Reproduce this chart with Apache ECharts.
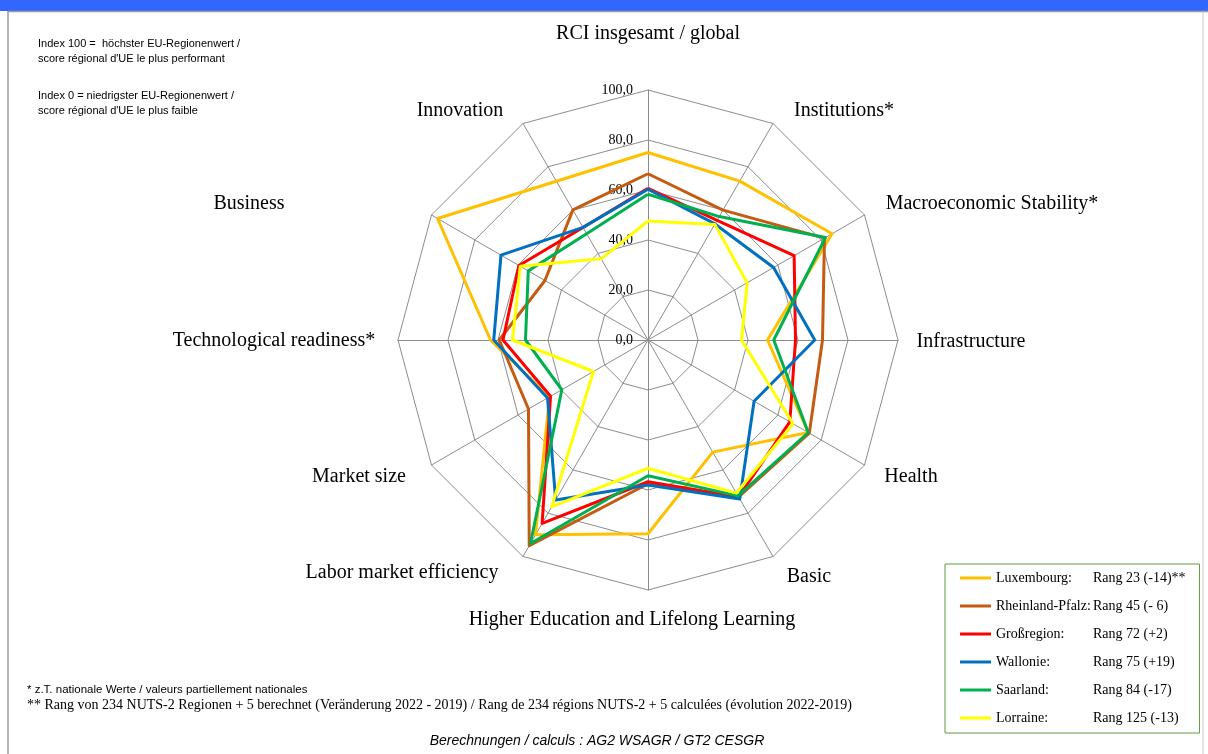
<!DOCTYPE html>
<html>
<head>
<meta charset="utf-8">
<script src="https://cdn.jsdelivr.net/npm/echarts@6/dist/echarts.min.js"></script>
<style>
  html, body { margin: 0; padding: 0; background: #fff; }
  #chart { width: 1208px; height: 754px; }
</style>
</head>
<body>
<div id="chart"></div>
<script>
// axes, clockwise from the top as in the picture
const indicators = ['RCI insgesamt / global', 'Institutions*', 'Macroeconomic Stability*', 'Infrastructure',
  'Health', 'Basic', 'Higher Education and Lifelong Learning', 'Labor market efficiency',
  'Market size', 'Technological readiness*', 'Business', 'Innovation']
const axisTicks = [0, 20, 40, 60, 80, 100]

const regions = ['Luxembourg', 'Rheinland-Pfalz', 'Großregion', 'Wallonie', 'Saarland', 'Lorraine']
const ranks = ['Rang 23 (-14)**', 'Rang 45 (- 6)', 'Rang 72 (+2)', 'Rang 75 (+19)', 'Rang 84 (-17)', 'Rang 125 (-13)']

const luxembourg = [75.0, 73.4, 85.0, 47.8, 74.0, 51.8, 77.5, 90.0, 45.5, 63.0, 97.2, 73.3]
const rheinlandPfalz = [66.5, 60.0, 81.5, 69.8, 74.5, 72.5, 57.5, 95.0, 55.2, 59.5, 47.6, 60.1]
const grossregion = [60.7, 55.3, 67.5, 59.0, 65.5, 72.5, 56.7, 84.7, 45.0, 58.0, 59.6, 52.0]
const wallonie = [60.3, 53.6, 58.0, 66.7, 49.0, 73.4, 58.0, 73.9, 46.4, 61.7, 67.9, 52.0]
const saarland = [58.3, 57.0, 82.0, 50.3, 74.0, 72.0, 54.3, 94.0, 39.8, 49.0, 55.3, 49.1]
const lorraine = [47.6, 53.4, 45.8, 37.4, 67.0, 70.7, 51.3, 77.1, 25.2, 54.2, 59.0, 37.5]

const seriesValues = [luxembourg, rheinlandPfalz, grossregion, wallonie, saarland, lorraine]
const colors = ['#FFC000', '#C55A11', '#FF0000', '#0070C0', '#00B050', '#FFFF00']

// where the axis names sit (centre of each text)
const namePos = [[648, 34], [844, 111], [992, 204], [971, 342], [911, 477], [809, 577],
  [632, 620], [402, 573], [359, 477], [274, 341], [249, 204], [460, 111]]

// echarts radar runs counter-clockwise, so keep the first axis and reverse the rest
const order = [0].concat(indicators.map((n, i) => i).slice(1).reverse())

const serif = 'Liberation Serif, Times New Roman, serif'
const sans = 'Liberation Sans, Arial, sans-serif'

const graphics = [
  { type: 'rect', shape: { x: 0, y: 0, width: 1208, height: 11 }, style: { fill: '#3366FF' } },
  { type: 'line', shape: { x1: 8, y1: 11.5, x2: 1208, y2: 11.5 }, style: { stroke: '#9a9a9a', lineWidth: 1.5 } },
  { type: 'line', shape: { x1: 8, y1: 11, x2: 8, y2: 754 }, style: { stroke: '#9a9a9a', lineWidth: 1.5 } },
  { type: 'line', shape: { x1: 1203, y1: 11, x2: 1203, y2: 754 }, style: { stroke: '#c8c8c8', lineWidth: 1 } }
]

const notes = [
  ['Index 100 =  höchster EU-Regionenwert /', 44],
  ['score régional d\'UE le plus performant', 58.5],
  ['Index 0 = niedrigster EU-Regionenwert /', 96],
  ['score régional d\'UE le plus faible', 110.5]
]
notes.forEach(n => graphics.push({
  type: 'text', x: 38, y: n[1],
  style: { text: n[0], fontFamily: sans, fontSize: 11, fill: '#000', align: 'left', verticalAlign: 'middle' }
}))

graphics.push({
  type: 'text', x: 27, y: 690,
  style: { text: '* z.T. nationale Werte / valeurs partiellement nationales', fontFamily: sans, fontSize: 11.5,
    fill: '#000', align: 'left', verticalAlign: 'middle' }
})
graphics.push({
  type: 'text', x: 27, y: 705,
  style: { text: '** Rang von 234 NUTS-2 Regionen + 5 berechnet (Veränderung 2022 - 2019) / Rang de 234 régions NUTS-2 + 5 calculées (évolution 2022-2019)',
    fontFamily: serif, fontSize: 14, fill: '#000', align: 'left', verticalAlign: 'middle' }
})
graphics.push({
  type: 'text', x: 597, y: 741,
  style: { text: 'Berechnungen / calculs : AG2 WSAGR / GT2 CESGR', fontFamily: sans, fontStyle: 'italic',
    fontSize: 14, fill: '#000', align: 'center', verticalAlign: 'middle' }
})

indicators.forEach((name, i) => graphics.push({
  type: 'text', x: namePos[i][0], y: namePos[i][1],
  style: { text: name, fontFamily: serif, fontSize: 20, fill: '#000', align: 'center', verticalAlign: 'middle' }
}))

const chart = echarts.init(document.getElementById('chart'))
chart.setOption({
  animation: false,
  backgroundColor: '#fff',
  color: colors,
  graphic: graphics,
  legend: {
    data: regions,
    orient: 'vertical',
    left: 945,
    top: 564,
    padding: [7, 14, 8, 15],
    borderColor: '#5E9C3E',
    borderWidth: 1,
    icon: 'rect',
    itemWidth: 31,
    itemHeight: 3,
    itemGap: 14,
    selectedMode: false,
    formatter: name => '{a|' + name + ':}{b|' + ranks[regions.indexOf(name)] + '}',
    textStyle: {
      fontFamily: serif,
      fontSize: 14,
      color: '#000',
      rich: {
        a: { width: 97, fontFamily: serif, fontSize: 14 },
        b: { fontFamily: serif, fontSize: 14 }
      }
    }
  },
  radar: {
    center: [648, 340],
    radius: 250,
    startAngle: 90,
    splitNumber: axisTicks.length - 1,
    shape: 'polygon',
    indicator: order.map(i => ({
      name: indicators[i], min: axisTicks[0], max: axisTicks[axisTicks.length - 1],
      axisLabel: { show: i === 0 }
    })),
    axisName: { show: false },
    splitArea: { show: false },
    splitLine: { lineStyle: { color: '#8c8c8c', width: 1 } },
    axisLine: { lineStyle: { color: '#8c8c8c', width: 1 } },
    axisTick: { show: false },
    axisLabel: {
      show: false,
      fontFamily: serif,
      fontSize: 14,
      color: '#000',
      margin: 15,
      formatter: v => v.toFixed(1).replace('.', ',')
    }
  },
  series: [{
    type: 'radar',
    symbol: 'none',
    silent: true,
    data: regions.map((r, k) => ({
      name: r,
      value: order.map(i => seriesValues[k][i]),
      lineStyle: { color: colors[k], width: 3 },
      itemStyle: { color: colors[k] }
    }))
  }]
})
</script>
</body>
</html>
